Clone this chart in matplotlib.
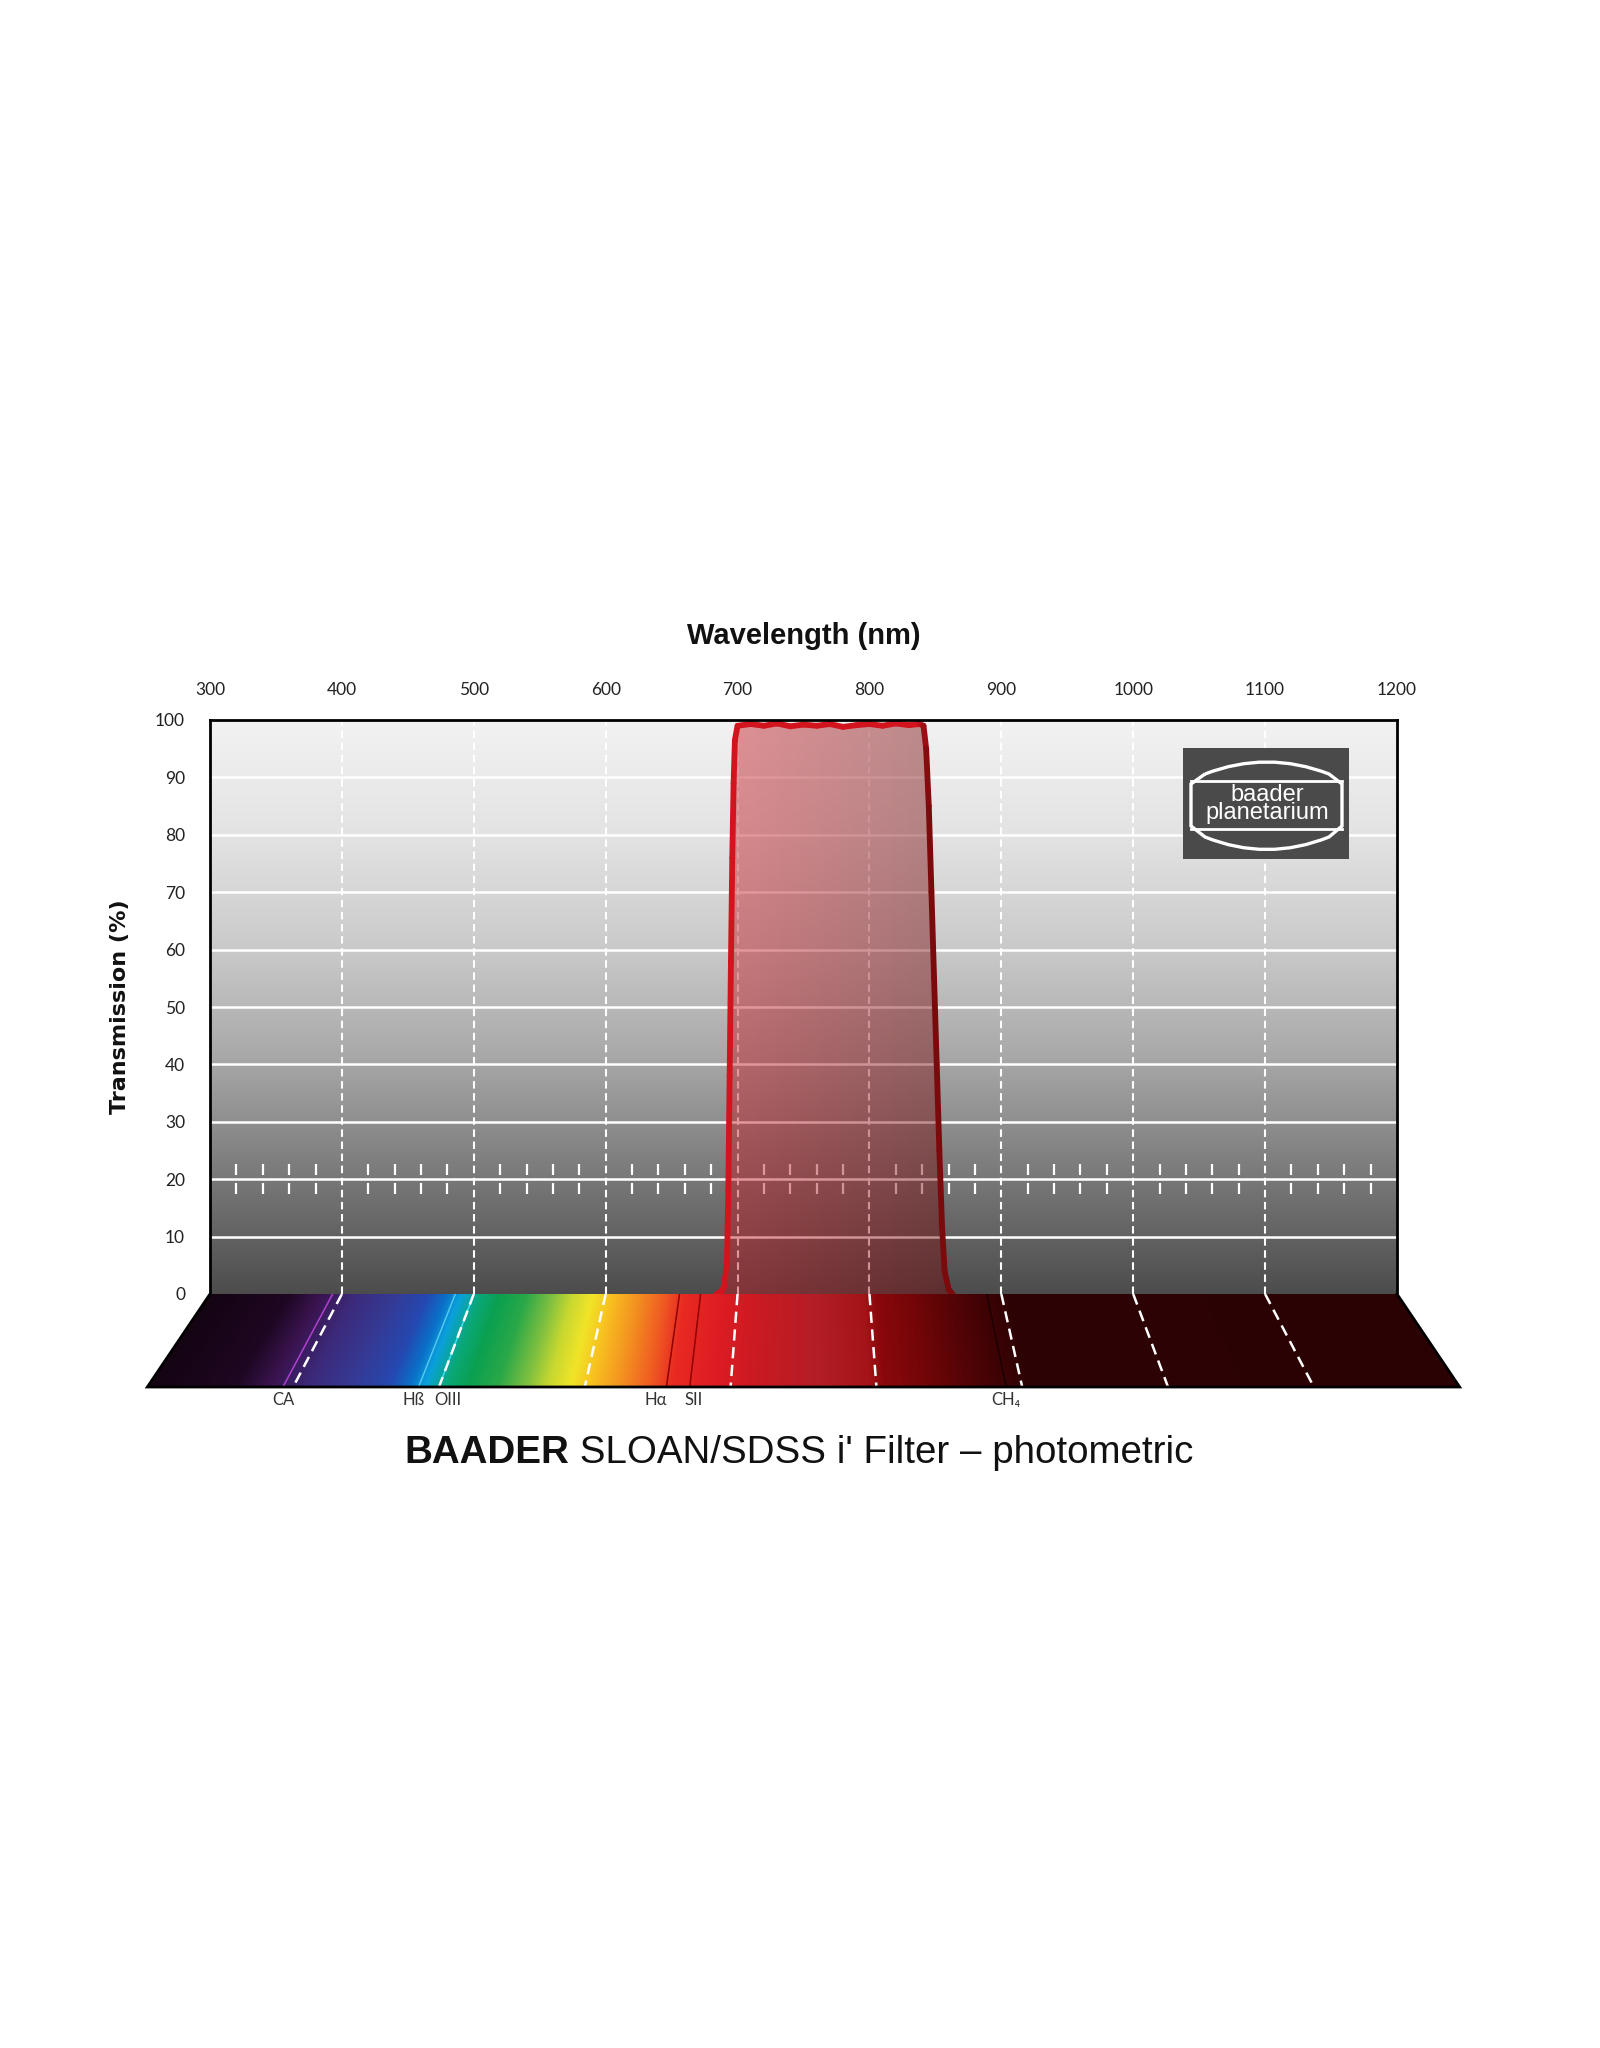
"""
Baader SLOAN/SDSS i' filter transmission chart.
"""

import numpy as np
import matplotlib

matplotlib.use("Agg")
import matplotlib.pyplot as plt
from matplotlib.colors import to_rgb
from matplotlib.collections import LineCollection
from matplotlib.path import Path
from matplotlib.patches import PathPatch, Rectangle, Polygon

# transmission curve
wavelength = [684, 688, 690, 692, 693, 694, 695, 696, 697, 698, 700, 710, 720, 730, 740,
              750, 760, 770, 780, 790, 800, 810, 820, 830, 838, 841, 843, 845, 847, 849, 851,
              853, 855, 857, 860, 863]
transmission = [0.0, 0.5, 1.5, 6, 18, 38, 58, 76, 89, 96.5, 99.0, 99.3, 99.0, 99.4, 98.9,
                99.2, 99.0, 99.3, 98.8, 99.1, 99.3, 99.0, 99.4, 99.1, 99.3, 99.0, 95, 85, 70, 55, 40,
                25, 12, 4, 0.8, 0.0]

x_ticks = [300, 400, 500, 600, 700, 800, 900, 1000, 1100, 1200]
y_ticks = [0, 10, 20, 30, 40, 50, 60, 70, 80, 90, 100]

# spectrum colours on the floor
spec_wl = [300, 360, 385, 410, 440, 465, 480, 490, 505, 520, 540, 560, 575, 590, 605, 625,
           645, 660, 690, 720, 760, 795, 805, 830, 860, 890, 905, 1200]
spec_col = ['#140412', '#1e0722', '#3a1450', '#3c2a7a', '#353a95', '#2548b0', '#0a70c8',
            '#0aa0dc', '#0aa878', '#0aa050', '#2aa848', '#80c040', '#c8d830', '#f0e428',
            '#f8c020', '#f39020', '#ef5a22', '#e82a22', '#dc1c22', '#c81a22', '#b41e26',
            '#a41418', '#8a080c', '#760608', '#560406', '#3a0204', '#2e0204', '#2a0204']

# emission lines
line_name = ['CA', 'Hß', 'OIII', 'Hα', 'SII', 'CH₄']
line_wl = [393, 486, 500, 656, 672, 889]
line_color = ['#b040d0', '#50c8f0', '#40e0f0', '#900000', '#900000', '#1a0000']
label_shift = [0, -4, 7, -8, 3, 0]

W, H = 1600, 2048
px_l, px_r, px_t, px_b = 210, 1397, 720, 1294
floor_px = 93
px_per_nm = (px_r - px_l) / 900
floor_depth = floor_px / ((px_b - px_t) / 100)
spread = 1.1056

fig = plt.figure(figsize=(W / 100, H / 100), dpi=100)
ax = fig.add_axes([px_l / W, 1 - px_b / H, (px_r - px_l) / W, (px_b - px_t) / H])
ax.set_xlim(300, 1200)
ax.set_ylim(0, 100)

# grey background gradient
yy = np.linspace(0, 100, 400)
g = np.interp(yy, [0, 20, 40, 60, 80, 100], [0.30, 0.47, 0.65, 0.79, 0.89, 0.95])
bg = np.repeat(g[:, None], 2, axis=1)
ax.imshow(np.dstack([bg, bg, bg]), extent=[300, 1200, 0, 100], origin='lower',
          aspect='auto', zorder=0, interpolation='bilinear')

for y in y_ticks[1:-1]:
    ax.axhline(y, color='white', lw=1.8, zorder=1)
for x in x_ticks[1:-1]:
    ax.axvline(x, color='white', lw=1.5, ls=(0, (3.6, 2.2)), zorder=1)

minor_x = [x for x in range(320, 1200, 20) if x % 100]
ax.vlines(minor_x, 20.7, 22.6, color='white', lw=1.6, zorder=1)
ax.vlines(minor_x, 17.4, 19.3, color='white', lw=1.6, zorder=1)

# filter fill with horizontal gradient
fb = ax.fill_between(wavelength, transmission, 0, facecolor='none', edgecolor='none')
gx = np.linspace(0, 1, 200)
c_left = np.array([0.80, 0.10, 0.14])
c_right = np.array([0.44, 0.04, 0.05])
grad = c_left[None, :] * (1 - gx[:, None]) + c_right[None, :] * gx[:, None]
rgba = np.concatenate([grad, np.full((200, 1), 0.45)], axis=1)[None, :, :]
im = ax.imshow(rgba, extent=[wavelength[0], wavelength[-1], 0, 100], origin='lower',
               aspect='auto', zorder=2, interpolation='bilinear')
im.set_clip_path(fb.get_paths()[0], transform=ax.transData)

# curve outline, red turning dark on the falling edge
pts = np.column_stack([wavelength, transmission])
segs = np.stack([pts[:-1], pts[1:]], axis=1)
red, dark = np.array(to_rgb('#d2141e')), np.array(to_rgb('#7a0a0c'))
cols = []
for s in segs:
    f = np.clip((s[0][0] - 836) / 8, 0, 1)
    cols.append(red * (1 - f) + dark * f)
ax.add_collection(LineCollection(segs, colors=cols, lw=4.2, zorder=3,
                                 capstyle='round', joinstyle='round'))

for side in ['top', 'left', 'right']:
    ax.spines[side].set_linewidth(2)
    ax.spines[side].set_zorder(5)
ax.spines['bottom'].set_visible(False)

ax.xaxis.tick_top()
ax.set_xticks(x_ticks)
ax.set_yticks(y_ticks)
ax.tick_params(length=0, labelsize=12.5, colors='#222222')
ax.tick_params(axis='x', pad=16)
ax.tick_params(axis='y', pad=18)
for lab in ax.get_xticklabels() + ax.get_yticklabels():
    lab.set_family('Lato')
ax.xaxis.set_label_position('top')
ax.set_xlabel('Wavelength (nm)', fontsize=21, weight='bold', family='Liberation Sans',
              labelpad=27, color='#111111')
ax.set_ylabel('Transmission (%)', fontsize=16, weight='bold', family='DejaVu Sans',
              labelpad=18, color='#111111')

# perspective floor with spectrum
fx0 = 750 - 450 * spread
fx1 = 750 + 450 * spread
fl_left = px_l + (fx0 - 300) * px_per_nm
fl_w = (fx1 - fx0) * px_per_nm
fax = fig.add_axes([fl_left / W, 1 - (px_b + floor_px) / H, fl_w / W, floor_px / H])
fax.set_xlim(fx0, fx1)
fax.set_ylim(-floor_depth, 0)
fax.axis('off')

xs = np.linspace(fx0, fx1, 1600)
ys = np.linspace(0, -floor_depth, 120)
X, Y = np.meshgrid(xs, ys)
k = 1 + (spread - 1) * (-Y / floor_depth)
Wl = 750 + (X - 750) / k
rgb_stops = np.array([to_rgb(c) for c in spec_col])
img = np.dstack([np.interp(Wl, spec_wl, rgb_stops[:, i]) for i in range(3)])
fim = fax.imshow(img, extent=[fx0, fx1, -floor_depth, 0], origin='upper', aspect='auto',
                 interpolation='bilinear', zorder=0)
floor_poly = Polygon([(300, 0), (1200, 0), (fx1, -floor_depth), (fx0, -floor_depth)],
                     closed=True, facecolor='none', edgecolor='none', transform=fax.transData)
fax.add_patch(floor_poly)
fim.set_clip_path(floor_poly)


def bottom_x(w):
    return 750 + (w - 750) * spread


for w, c in zip(line_wl, line_color):
    fax.plot([w, bottom_x(w)], [0, -floor_depth], color=c, lw=1.1, zorder=1)
for x in x_ticks[1:-1]:
    fax.plot([x, bottom_x(x)], [0, -floor_depth], color='white', lw=1.8,
             ls=(0, (4.5, 2.6)), zorder=2)
fax.plot([300, fx0, fx1, 1200], [0, -floor_depth, -floor_depth, 0], color='black',
         lw=2, zorder=3, clip_on=False, solid_joinstyle='miter')

for name, w, sh in zip(line_name, line_wl, label_shift):
    fax.text(bottom_x(w) + sh, -floor_depth - 2.3, name, ha='center', va='center',
             fontsize=12, family=['Lato', 'DejaVu Sans'], color='#333333', clip_on=False)

# logo
lax = fig.add_axes([1183 / W, 1 - 859 / H, 166 / W, 111 / H])
lax.set_xlim(0, 166)
lax.set_ylim(111, 0)
lax.axis('off')
lax.add_patch(Rectangle((0, 0), 166, 111, facecolor='#4a4a4a', edgecolor='none'))
verts = [(22, 26), (84, 2), (146, 26), (159, 36), (159, 78), (146, 89), (84, 114),
         (22, 89), (8, 78), (8, 36), (22, 26)]
codes = [Path.MOVETO, Path.CURVE3, Path.CURVE3, Path.LINETO, Path.LINETO, Path.LINETO,
         Path.CURVE3, Path.CURVE3, Path.LINETO, Path.LINETO, Path.LINETO]
lax.add_patch(PathPatch(Path(verts, codes), facecolor='none', edgecolor='white', lw=2.4))
lax.plot([8, 159], [33, 33], color='white', lw=2)
lax.plot([8, 159], [81, 81], color='white', lw=2)
lax.text(84, 56, 'baader\nplanetarium', ha='center', va='center', multialignment='center',
         linespacing=0.72, color='white', fontsize=17, family='Liberation Sans')

# title: bold brand name followed by regular text
ty = 1 - 1453 / H
t1 = fig.text(0, ty, 'BAADER', fontsize=27.7, weight='bold', family='Liberation Sans',
              va='center', color='#111111')
t2 = fig.text(0, ty, " SLOAN/SDSS i' Filter – photometric", fontsize=27.7,
              family='Liberation Sans', va='center', color='#111111')
fig.canvas.draw()
r = fig.canvas.get_renderer()
w1 = t1.get_window_extent(r).width
w2 = t2.get_window_extent(r).width
start = 799 - (w1 + w2) / 2
t1.set_x(start / W)
t2.set_x((start + w1) / W)

fig.savefig('out.png', dpi=100, facecolor='white')
